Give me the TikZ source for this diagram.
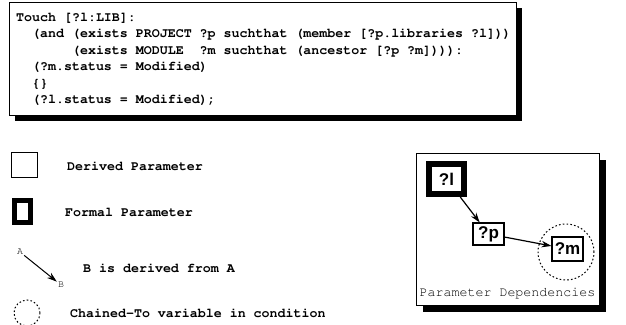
\documentclass[tikz,border=0pt]{standalone}
\usepackage[T1]{fontenc}
\usepackage{fontspec}
\usetikzlibrary{arrows.meta}
\newfontfamily\varfont{Liberation Sans}
% Courier from the PostScript set, selected by hand
\newcommand\couriertext{\fontencoding{T1}\fontfamily{pcr}\selectfont}

\tikzset{
  codeline/.style={anchor=base west, inner sep=0pt, font=\couriertext\bfseries\fontsize{13.3}{16}\selectfont},
  legendtext/.style={anchor=west, inner sep=0pt, font=\couriertext\bfseries\fontsize{13.3}{16}\selectfont},
  varbox/.style={draw, line width=1.1pt, fill=white, inner sep=0pt, font=\varfont\bfseries\fontsize{17}{20}\selectfont},
  depends/.style={line width=1.2pt, -{Stealth[length=10pt,width=6.5pt]}},
  chained/.style={line width=1pt, dash pattern=on 1.6pt off 2.2pt},
  shadowbox/.style={fill=black}
}

\begin{document}
\begin{tikzpicture}[x=1pt, y=-1pt]
  % Page area
  \fill[white] (0,0) rectangle (626,324);
  \useasboundingbox (0,0) rectangle (626,324);

  % Rule text box with drop shadow
  \fill[shadowbox] (15,8) rectangle (522,121);
  \draw[fill=white, line width=0.8pt] (9,2) rectangle (516,115);
  \node[codeline] (code1) at (16,21)    {Touch [?l:LIB]:};
  \node[codeline] (code2) at (16,37.5)  {~~(and (exists PROJECT ?p suchthat (member [?p.libraries ?l]))};
  \node[codeline] (code3) at (16,54)    {~~~~~~~(exists MODULE~~?m suchthat (ancestor [?p ?m]))):};
  \node[codeline] (code4) at (16,70.5)  {~~(?m.status = Modified)};
  \node[codeline] (code5) at (16,87)    {~~\{\}};
  \node[codeline] (code6) at (16,103.5) {~~(?l.status = Modified);};

  % Legend
  \draw[line width=0.8pt] (11,152) rectangle (37,177);
  \node[legendtext] (derived) at (67,166) {Derived Parameter};

  \draw[line width=5pt] (14.5,200.5) rectangle (30.5,222.5);
  \node[legendtext] (formal) at (65,212) {Formal Parameter};

  \node[inner sep=1pt, font=\couriertext\fontsize{10}{12}\selectfont] (legA) at (20,252) {A};
  \node[inner sep=1pt, font=\couriertext\fontsize{10}{12}\selectfont] (legB) at (61,285) {B};
  \draw[depends, line width=1pt] (legA) -- (legB);
  \node[legendtext] (derivedfrom) at (83,268) {B is derived from A};

  \draw[chained] (27,313) circle[radius=13pt];
  \node[legendtext] (chainedto) at (70,313) {Chained-To variable in condition};

  % Parameter dependency box with drop shadow
  \fill[shadowbox] (423,160) rectangle (606,312);
  \draw[fill=white, line width=0.8pt] (416,153) rectangle (599,305);
  \node[varbox, line width=6pt, minimum width=35pt, minimum height=30pt] (varL) at (446.5,179) {?l};
  \node[varbox, minimum width=31pt, minimum height=22pt] (varP) at (488.5,234) {?p};
  \node[varbox, minimum width=31pt, minimum height=24pt] (varM) at (567.5,249) {?m};
  \draw[chained] (566,252) circle[radius=28pt];
  \draw[depends] (varL) -- (varP);
  \draw[depends] (varP) -- (varM);
  \node[inner sep=0pt, font=\couriertext\fontsize{13.3}{16}\selectfont] (deplabel) at (507.5,293) {Parameter Dependencies};
\end{tikzpicture}
\end{document}
